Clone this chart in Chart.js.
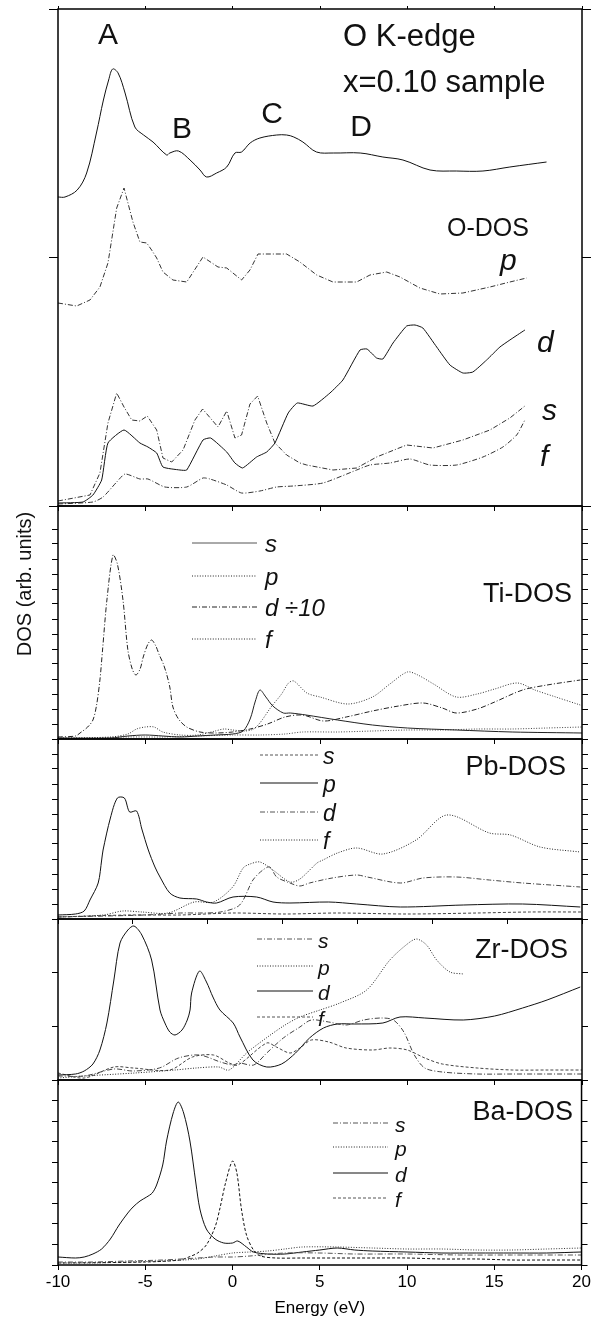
<!DOCTYPE html>
<html>
<head>
<meta charset="utf-8">
<script src="https://cdn.jsdelivr.net/npm/chart.js@4.4.1/dist/chart.umd.min.js"></script>
<style>
  body { margin: 0; background: #fff; }
  #wrap { position: relative; width: 593px; height: 1327px; overflow: hidden; background: #fff; }
  #wrap canvas { position: absolute; left: 0; }
</style>
</head>
<body>
<div id="wrap"></div>
<script>
// ---------- data (energy in eV, DOS in arbitrary units) ----------
// O K-edge experiment, x=0.10 sample
const expE = [-10,-9.6,-8.9,-8.36,-7.8,-7.4,-7.1,-6.87,-6.56,-6.16,-5.6,-5.1,-4.56,-3.78,-3.6,-3.1,-2.44,-1.87,-1.49,-0.92,-0.34,0.13,0.51,1.0,1.56,2.52,3.09,3.5,4.02,4.8,5.76,7.3,8.6,9.75,11.3,12.8,14.33,15.87,17.97];
const expY = [309,309,316,333,373,406,426,437,433,413,379,371,364,351,353,355,346,336,329,333,339,353,354,363,368,371,371,369,364,354,353,353,349,346,336,335,335,339,344];
// O-DOS
const oPE = [-10,-8.93,-8.17,-7.6,-7.14,-7.02,-6.64,-6.22,-5.71,-5.31,-4.92,-4.64,-4.35,-3.99,-3.42,-2.63,-1.70,-0.84,-0.34,0.51,0.99,1.45,3.09,3.85,4.81,5.74,7.1,7.86,8.82,9.58,10.72,11.87,13.18,14.73,15.87,16.83];
const oPY = [203,200,206,219,243,256,298,318,284,264,263,256,248,234,226,224,249,239,238,226,236,252,252,244,231,224,224,231,234,229,218,212,213,219,224,228];
const oDE = [-10,-8.57,-8.0,-7.5,-7.14,-6.22,-5.31,-4.85,-4.35,-3.99,-3.02,-2.63,-1.70,-1.26,-0.34,0.13,0.57,1.37,1.95,2.42,3.18,3.70,4.60,5.57,6.31,7.29,7.69,8.24,8.60,9.18,9.96,10.44,10.89,11.68,12.44,13.18,13.75,14.54,15.30,15.87,16.73];
const oDY = [3,4,11,26,63,76,63,59,53,39,36,36,66,68,54,43,38,49,54,63,93,103,100,113,126,156,157,148,147,163,180,181,178,159,141,133,134,146,159,166,176];
const oSE = [-10,-8.17,-7.6,-7.14,-6.64,-6.22,-5.78,-5.31,-4.89,-4.35,-3.99,-3.49,-2.84,-2.16,-1.72,-0.84,-0.34,0.13,0.51,0.99,1.43,1.95,2.42,3.09,3.85,4.24,5.74,7.1,8.24,9.96,11.47,13.18,14.73,15.87,16.73];
const oSY = [5,11,33,83,113,99,86,85,90,76,48,44,56,86,97,79,95,68,71,102,110,83,63,51,43,41,36,38,49,61,58,66,76,88,100];
const oFE = [-10,-8.0,-7.42,-6.64,-6.16,-5.31,-4.85,-3.88,-2.63,-1.70,-1.30,-0.34,0.51,1.56,2.52,3.47,5.17,7.1,7.86,9.0,10.15,11.29,12.82,14.33,15.47,16.26,16.73];
const oFY = [2,4,9,24,32,27,27,19,19,28,27,21,13,15,19,20,23,36,41,43,47,41,41,49,59,71,86];

// Ti-DOS (d shown divided by 10)
const tiSE = [-10,-7,-6,-5,-4,-3,-2,-1,0,0.6,1.0,1.3,1.56,1.9,2.3,2.9,3.3,4.2,6,8,10,12.8,16,20];
const tiSY = [1,1,3,4,3,2,3,4,5,8,20,38,49,42,33,26,26,24,19,14,11,9,7,6];
const tiPE = [-10,-7,-6,-5.5,-5,-4.5,-4,-3,-2,-1,-0.5,0,0.7,1.2,1.6,2.2,2.8,3.2,3.5,4.25,5,6.6,8,9,10,10.6,11.5,12.8,14,15,16.3,17.3,18.5,19.9];
const tiPY = [1,2,5,10,12,12,7,4,4,8,10,9,8,10,17,32,45,56,58,46,42,35,42,55,67,64,55,42,45,50,56,49,42,34];
const tiDE = [-10,-9,-8.74,-8.3,-8,-7.8,-7.6,-7.45,-7.2,-6.85,-6.6,-6.28,-6.0,-5.75,-5.54,-5.3,-5.12,-4.85,-4.64,-4.4,-4.2,-3.99,-3.8,-3.6,-3.42,-3.1,-2.63,-1.87,-1,0,1,2,3,4,5.2,6.5,8,9.5,10.9,12,12.8,14,15,16.6,18,19.9];
const tiDY = [2,3,6,12,19,33,59,89,139,184,175,139,89,70,64,70,82,95,99,93,84,76,66,52,32,20,12,7,6,7,10,15,22,24,18,22,28,33,36,31,26,30,37,49,54,59];
const tiFE = [-10,-6,-4,-2,0,1.6,3,4,6,8,10,12,14,16,18,20];
const tiFY = [0,2,2,3,4,4,5,7,7,8,9,9,10,10,11,12];

// Pb-DOS
const pbSE = [-10,-6,-3,0,3,6,10,14,17,20];
const pbSY = [2,4,4,6,5,6,5,6,7,7];
const pbPE = [-10,-9,-8.5,-8.17,-7.7,-7.5,-7.42,-7.0,-6.6,-6.2,-5.9,-5.5,-5.2,-4.83,-4.45,-4.16,-3.6,-3.02,-2.06,-1.49,-0.92,0.02,1.37,2.31,3.28,5.5,7.1,9.6,13.2,16.6,19.9];
const pbPY = [4,5,8,19,36,59,69,101,121,121,107,108,90,69,52,42,26,21,20,17,16,22,22,17,16,17,15,12,14,15,12];
const pbDE = [-10,-5,-3,-1.9,-0.7,0.4,1.16,1.73,2.13,2.52,3.28,3.85,4.4,5.7,7.1,7.7,9.6,10.9,12.8,14.7,16.6,19.9];
const pbDY = [2,4,6,6,7,14,39,49,52,42,36,33,36,41,44,42,36,41,42,39,36,32];
const pbFE = [-10,-7.4,-6.3,-5.2,-3.7,-2.2,-1.1,0,0.6,1.0,1.56,2.3,3.28,3.85,4.83,5.17,6,7.1,8.6,10.5,12.27,14.7,15.9,17.6,19.9];
const pbFY = [2,4,8,7,6,17,17,32,51,55,57,49,37,40,56,59,66,71,65,79,104,86,84,72,67];

// Zr-DOS
const zrSE = [-10,-8.5,-6.8,-5.7,-4.2,-3.1,-1.9,-0.7,0,0.4,1.2,1.95,2.9,3.85,4.5,5.5,6.5,7.5,8.5,9.2,9.8,10.4,11,12,14,16,18,20];
const zrSY = [4,4,11,9,12,22,25,18,15,17,15,27,42,53,60,58,55,60,62,60,48,25,12,8,6,6,6,6];
const zrPE = [-10,-8.5,-5.6,-3.3,-2.1,-0.8,-0.2,0.8,2.0,3.0,3.85,5,6.14,7.67,9.0,10.0,10.53,11.1,11.68,12.44,13.2];
const zrPY = [2,4,7,10,12,13,10,27,43,55,63,70,77,90,120,136,141,135,120,108,106];
const zrDE = [-10,-9,-8.5,-8,-7.6,-7.2,-6.8,-6.45,-6.0,-5.65,-5.2,-4.64,-4.16,-3.88,-3.6,-3.3,-2.9,-2.6,-2.44,-2.35,-1.9,-1.5,-1.13,-0.73,0.03,0.42,1.16,1.95,2.8,3.6,4.4,5.2,6,7,8.6,9.58,11,13.2,15,16.6,18,19.9];
const zrDY = [5,6,9,16,30,57,100,137,150,154,145,120,70,57,48,45,50,60,70,87,109,98,83,70,57,43,20,13,16,27,42,52,56,56,57,63,62,60,64,72,80,93];
const zrFE = [-10,-8.5,-6.8,-5.7,-3.6,-2.3,-1.1,-0.2,0.3,1.95,2.5,3.28,3.85,4.5,5.5,6.5,8,9,10,11,12,14,16,18,20];
const zrFY = [7,2,13,12,10,23,25,17,15,37,33,27,32,40,38,32,30,32,30,22,16,12,10,10,10];

// Ba-DOS
const baSE = [-10,-8,-6,-4,-2,-1,0,1,3,5,7,10,13,16,20];
const baSY = [3,3,4,5,7,8,8,9,12,12,11,11,10,10,10];
const baPE = [-10,-8,-6,-4,-2,-1,0,1,2,3,4,6,8,10,12,14,16,18,20];
const baPY = [2,2,3,4,6,9,12,13,14,16,18,18,17,16,16,15,15,16,17];
const baDE = [-10,-9,-8.5,-8,-7.5,-7,-6.5,-6,-5.7,-5.3,-4.92,-4.6,-4.35,-4,-3.78,-3.4,-3.11,-2.8,-2.44,-2.1,-1.87,-1.5,-1,-0.5,0,0.3,0.8,1.2,2,3,4,5,6,7,8,10,12,14,16,18,20];
const baDY = [8,7,8,11,16,26,40,52,58,64,68,72,80,100,124,152,163,152,124,82,56,36,26,22,22,24,18,13,11,11,13,15,17,15,14,13,12,12,12,12,13];
const baFE = [-10,-5,-3,-2.5,-2,-1.5,-1,-0.73,-0.4,0,0.25,0.51,0.8,1.2,1.6,2.5,4,6,8,10,12,14,16,18,20];
const baFY = [2,3,5,8,12,20,38,56,82,104,92,56,30,15,9,7,7,7,7,7,6,6,5,5,5];

const energyTicks = [-10, -5, 0, 5, 10, 15, 20];

// ---------- drawing ----------
const FONT = '"Liberation Sans", Arial, Helvetica, sans-serif';
const dashes = { solid: [], dot: [1, 1.6], dashdot: [5, 2, 1, 2], dash: [3, 2] };

function line(e, y, style, color, tension) {
  return {
    data: e.map((x, i) => ({ x: x, y: y[i] })),
    borderColor: color || '#1a1a1a',
    borderWidth: 1,
    borderDash: dashes[style],
    pointRadius: 0,
    tension: tension === undefined ? 0.3 : tension,
    fill: false
  };
}

const frame = {
  id: 'frame',
  afterDraw(chart) {
    const a = chart.chartArea, ctx = chart.ctx;
    ctx.save();
    ctx.strokeStyle = '#000';
    ctx.lineWidth = 1.5;
    ctx.strokeRect(a.left, a.top, a.right - a.left, a.bottom - a.top);
    ctx.restore();
  }
};

const annot = {
  id: 'annot',
  afterDraw(chart, args, o) {
    const ctx = chart.ctx, off = o.off || 0;
    ctx.save();
    ctx.fillStyle = '#111';
    (o.texts || []).forEach(t => {
      ctx.font = t.font;
      if (t.rot) {
        ctx.save();
        ctx.translate(t.x, t.y - off);
        ctx.rotate(-Math.PI / 2);
        ctx.textAlign = 'center';
        ctx.textBaseline = 'middle';
        ctx.fillText(t.text, 0, 0);
        ctx.restore();
      } else {
        ctx.textAlign = t.align || 'left';
        ctx.textBaseline = 'alphabetic';
        ctx.fillText(t.text, t.x, t.y - off);
      }
    });
    (o.legend || []).forEach(l => {
      ctx.strokeStyle = l.color || '#222';
      ctx.lineWidth = 1;
      ctx.setLineDash(dashes[l.style]);
      ctx.beginPath();
      ctx.moveTo(l.x0, l.y - off);
      ctx.lineTo(l.x1, l.y - off);
      ctx.stroke();
      ctx.setLineDash([]);
      let x = l.tx;
      ctx.textAlign = 'left';
      ctx.textBaseline = 'alphabetic';
      l.parts.forEach(p => {
        ctx.font = (p.it ? 'italic ' : '') + l.size + 'px ' + FONT;
        ctx.fillText(p.t, x, l.y + 9 - off);
        x += ctx.measureText(p.t).width;
      });
    });
    ctx.restore();
  }
};

function panel(p) {
  const wrap = document.getElementById('wrap');
  const c = document.createElement('canvas');
  const off = p.top - p.padT;
  c.width = 593;
  c.height = p.bottom - p.top + p.padT + p.padB;
  c.style.top = off + 'px';
  wrap.appendChild(c);
  const yAxis = (pos, w) => ({
    position: pos, min: 0, max: p.yMax,
    ticks: { display: false, stepSize: p.yStep },
    grid: { drawOnChartArea: false, color: '#000', tickLength: p.tickLen || 6 },
    border: { display: false },
    afterFit: s => { s.width = w; }
  });
  new Chart(c, {
    type: 'line',
    data: { datasets: p.series },
    options: {
      responsive: false, animation: false, devicePixelRatio: 1,
      layout: { padding: 0 },
      plugins: { legend: { display: false }, tooltip: { enabled: false }, annot: Object.assign({ off: off }, p.annot) },
      scales: {
        x: {
          type: 'linear', position: 'bottom', min: -10, max: 20,
          afterBuildTicks: s => { s.ticks = (p.xTicks || energyTicks).map(v => ({ value: v })); },
          ticks: { display: !!p.last, color: '#000', font: { family: FONT, size: 17 }, padding: 2 },
          grid: { drawOnChartArea: false, color: '#000', tickLength: 5 },
          border: { display: false },
          title: { display: !!p.last, text: 'Energy (eV)', color: '#000', font: { family: FONT, size: 17 }, padding: { bottom: 8 } },
          afterFit: s => { s.height = p.padB; }
        },
        xt: {
          type: 'linear', position: 'top', min: -10, max: 20,
          afterBuildTicks: s => { s.ticks = energyTicks.map(v => ({ value: v })); },
          ticks: { display: false },
          grid: { drawOnChartArea: false, drawTicks: !!p.topTicks, color: '#000', tickLength: 3 },
          border: { display: false },
          afterFit: s => { s.height = p.padT; }
        },
        y: yAxis('left', 58),
        y2: yAxis('right', 11)
      }
    },
    plugins: [frame, annot]
  });
}

const f = (size, it) => (it ? 'italic ' : '') + size + 'px ' + FONT;
const leg = (x0, x1, tx, y, style, parts, size, color) => ({ x0, x1, tx, y, style, parts, size, color });

// top panel: O K-edge and O-DOS
panel({
  top: 9, bottom: 506, padT: 9, padB: 10, yMax: 497, yStep: 226, tickLen: 9, topTicks: true,
  series: [
    line(expE, expY, 'solid', '#111', 0.35),
    line(oPE, oPY, 'dashdot', '#333', 0),
    line(oDE, oDY, 'solid', '#111', 0.15),
    line(oSE, oSY, 'dashdot', '#333', 0),
    line(oFE, oFY, 'dashdot', '#333', 0.2)
  ],
  annot: {
    texts: [
      { text: 'A', x: 108, y: 44, font: f(30), align: 'center' },
      { text: 'B', x: 182, y: 138, font: f(30), align: 'center' },
      { text: 'C', x: 272, y: 123, font: f(30), align: 'center' },
      { text: 'D', x: 361, y: 136, font: f(30), align: 'center' },
      { text: 'O K-edge', x: 343, y: 46, font: f(31) },
      { text: 'x=0.10 sample', x: 343, y: 92, font: f(31) },
      { text: 'O-DOS', x: 447, y: 236, font: f(25) },
      { text: 'p', x: 500, y: 270, font: f(30, true) },
      { text: 'd', x: 537, y: 352, font: f(30, true) },
      { text: 's', x: 542, y: 420, font: f(30, true) },
      { text: 'f', x: 540, y: 466, font: f(30, true) }
    ]
  }
});

// Ti-DOS
panel({
  top: 506, bottom: 739, padT: 10, padB: 10, yMax: 233, yStep: 15,
  series: [
    line(tiSE, tiSY, 'solid', '#222'),
    line(tiPE, tiPY, 'dot', '#333'),
    line(tiDE, tiDY, 'dashdot', '#222'),
    line(tiFE, tiFY, 'dot', '#444')
  ],
  annot: {
    texts: [
      { text: 'Ti-DOS', x: 572, y: 602, font: f(27), align: 'right' },
      { text: 'DOS (arb. units)', x: 25, y: 584, font: f(20), rot: true }
    ],
    legend: [
      leg(192, 257, 265, 543, 'solid', [{ t: 's', it: true }], 24, '#555'),
      leg(192, 257, 265, 576, 'dot', [{ t: 'p', it: true }], 24),
      leg(192, 257, 265, 607, 'dashdot', [{ t: 'd ', it: true }, { t: '÷', it: false }, { t: '10', it: true }], 24),
      leg(192, 257, 265, 639, 'dot', [{ t: 'f', it: true }], 24)
    ]
  }
});

// Pb-DOS
panel({
  top: 739, bottom: 919, padT: 10, padB: 10, yMax: 180, yStep: 15,
  xTicks: [-10, -5.714, -1.429, 2.857, 7.143, 11.429, 15.714, 20],
  series: [
    line(pbSE, pbSY, 'dash', '#444'),
    line(pbPE, pbPY, 'solid', '#111'),
    line(pbDE, pbDY, 'dashdot', '#444'),
    line(pbFE, pbFY, 'dot', '#222')
  ],
  annot: {
    texts: [{ text: 'Pb-DOS', x: 566, y: 775, font: f(27), align: 'right' }],
    legend: [
      leg(260, 318, 323, 755, 'dash', [{ t: 's', it: true }], 23, '#555'),
      leg(260, 318, 323, 783, 'solid', [{ t: 'p', it: true }], 23, '#111'),
      leg(260, 318, 323, 812, 'dashdot', [{ t: 'd', it: true }], 23, '#555'),
      leg(260, 318, 323, 840, 'dot', [{ t: 'f', it: true }], 23)
    ]
  }
});

// Zr-DOS
panel({
  top: 919, bottom: 1080, padT: 10, padB: 10, yMax: 161, yStep: 161 / 3,
  series: [
    line(zrSE, zrSY, 'dashdot', '#444'),
    line(zrPE, zrPY, 'dot', '#222'),
    line(zrDE, zrDY, 'solid', '#111'),
    line(zrFE, zrFY, 'dash', '#444')
  ],
  annot: {
    texts: [{ text: 'Zr-DOS', x: 568, y: 958, font: f(27), align: 'right' }],
    legend: [
      leg(257, 313, 318, 939, 'dashdot', [{ t: 's', it: true }], 21, '#555'),
      leg(257, 313, 318, 966, 'dot', [{ t: 'p', it: true }], 21),
      leg(257, 313, 318, 991, 'solid', [{ t: 'd', it: true }], 21, '#111'),
      leg(257, 313, 318, 1017, 'dash', [{ t: 'f', it: true }], 21, '#555')
    ]
  }
});

// Ba-DOS
panel({
  top: 1080, bottom: 1265, padT: 10, padB: 62, yMax: 185, yStep: 185 / 9, last: true,
  series: [
    line(baSE, baSY, 'dashdot', '#555'),
    line(baPE, baPY, 'dot', '#333'),
    line(baDE, baDY, 'solid', '#111'),
    line(baFE, baFY, 'dash', '#111')
  ],
  annot: {
    texts: [{ text: 'Ba-DOS', x: 573, y: 1120, font: f(27), align: 'right' }],
    legend: [
      leg(333, 388, 395, 1123, 'dashdot', [{ t: 's', it: true }], 21, '#555'),
      leg(333, 388, 395, 1147, 'dot', [{ t: 'p', it: true }], 21),
      leg(333, 388, 395, 1173, 'solid', [{ t: 'd', it: true }], 21, '#111'),
      leg(333, 388, 395, 1198, 'dash', [{ t: 'f', it: true }], 21, '#555')
    ]
  }
});
</script>
</body>
</html>
